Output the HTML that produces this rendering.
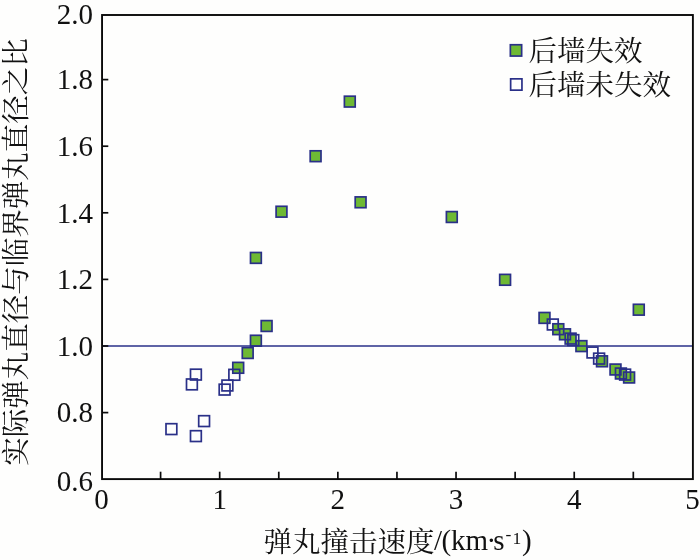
<!DOCTYPE html>
<html lang="zh">
<head>
<meta charset="utf-8">
<title>弹丸撞击速度</title>
<style>
html,body{margin:0;padding:0;background:#fefefd;}
body{width:700px;height:560px;overflow:hidden;}
svg{display:block;}
.num{font-family:"Liberation Serif","Noto Serif CJK SC",serif;font-size:29px;fill:#111;}
.cjk{font-family:"Liberation Serif","Noto Serif CJK SC",serif;font-size:28.5px;fill:#111;}
</style>
</head>
<body>
<svg width="700" height="560" viewBox="0 0 700 560">
<rect x="0" y="0" width="700" height="560" fill="#fefefd"/>
<g fill="#6eb934" stroke="none">
<rect x="232.80" y="362.40" width="10.8" height="10.8"/>
<rect x="242.30" y="347.60" width="10.8" height="10.8"/>
<rect x="250.50" y="335.30" width="10.8" height="10.8"/>
<rect x="261.20" y="320.60" width="10.8" height="10.8"/>
<rect x="250.50" y="252.50" width="10.8" height="10.8"/>
<rect x="276.10" y="206.30" width="10.8" height="10.8"/>
<rect x="310.20" y="150.80" width="10.8" height="10.8"/>
<rect x="344.40" y="96.20" width="10.8" height="10.8"/>
<rect x="355.20" y="196.90" width="10.8" height="10.8"/>
<rect x="446.40" y="211.60" width="10.8" height="10.8"/>
<rect x="499.70" y="274.40" width="10.8" height="10.8"/>
<rect x="539.10" y="312.50" width="10.8" height="10.8"/>
<rect x="552.90" y="323.80" width="10.8" height="10.8"/>
<rect x="559.60" y="328.90" width="10.8" height="10.8"/>
<rect x="565.20" y="333.20" width="10.8" height="10.8"/>
<rect x="576.00" y="340.70" width="10.8" height="10.8"/>
<rect x="596.60" y="355.90" width="10.8" height="10.8"/>
<rect x="610.10" y="364.10" width="10.8" height="10.8"/>
<rect x="615.50" y="368.10" width="10.8" height="10.8"/>
<rect x="623.70" y="372.10" width="10.8" height="10.8"/>
<rect x="633.40" y="304.30" width="10.8" height="10.8"/>
</g>
<line x1="102.3" y1="346.0" x2="693.0" y2="346.0" stroke="#2a3088" stroke-width="1.6"/>
<g fill="none" stroke="#2a3088" stroke-width="1.7">
<rect x="232.80" y="362.40" width="10.8" height="10.8"/>
<rect x="242.30" y="347.60" width="10.8" height="10.8"/>
<rect x="250.50" y="335.30" width="10.8" height="10.8"/>
<rect x="261.20" y="320.60" width="10.8" height="10.8"/>
<rect x="250.50" y="252.50" width="10.8" height="10.8"/>
<rect x="276.10" y="206.30" width="10.8" height="10.8"/>
<rect x="310.20" y="150.80" width="10.8" height="10.8"/>
<rect x="344.40" y="96.20" width="10.8" height="10.8"/>
<rect x="355.20" y="196.90" width="10.8" height="10.8"/>
<rect x="446.40" y="211.60" width="10.8" height="10.8"/>
<rect x="499.70" y="274.40" width="10.8" height="10.8"/>
<rect x="539.10" y="312.50" width="10.8" height="10.8"/>
<rect x="552.90" y="323.80" width="10.8" height="10.8"/>
<rect x="559.60" y="328.90" width="10.8" height="10.8"/>
<rect x="565.20" y="333.20" width="10.8" height="10.8"/>
<rect x="576.00" y="340.70" width="10.8" height="10.8"/>
<rect x="596.60" y="355.90" width="10.8" height="10.8"/>
<rect x="610.10" y="364.10" width="10.8" height="10.8"/>
<rect x="615.50" y="368.10" width="10.8" height="10.8"/>
<rect x="623.70" y="372.10" width="10.8" height="10.8"/>
<rect x="633.40" y="304.30" width="10.8" height="10.8"/>
<rect x="166.00" y="423.70" width="10.8" height="10.8"/>
<rect x="190.50" y="430.70" width="10.8" height="10.8"/>
<rect x="198.70" y="415.70" width="10.8" height="10.8"/>
<rect x="186.50" y="379.00" width="10.8" height="10.8"/>
<rect x="190.50" y="369.20" width="10.8" height="10.8"/>
<rect x="219.20" y="384.20" width="10.8" height="10.8"/>
<rect x="222.00" y="380.10" width="10.8" height="10.8"/>
<rect x="228.90" y="369.40" width="10.8" height="10.8"/>
<rect x="547.40" y="319.10" width="10.8" height="10.8"/>
<rect x="567.90" y="334.70" width="10.8" height="10.8"/>
<rect x="587.10" y="347.10" width="10.8" height="10.8"/>
<rect x="593.70" y="353.20" width="10.8" height="10.8"/>
<rect x="619.70" y="369.20" width="10.8" height="10.8"/>
</g>
<rect x="102.05" y="15" width="590.85" height="464.1" fill="none" stroke="#0a0a0a" stroke-width="1.9"/>
<g stroke="#0a0a0a" stroke-width="1.7">
<line x1="160.59" y1="479.0" x2="160.59" y2="471.7"/>
<line x1="219.68" y1="479.0" x2="219.68" y2="471.7"/>
<line x1="278.77" y1="479.0" x2="278.77" y2="471.7"/>
<line x1="337.86" y1="479.0" x2="337.86" y2="471.7"/>
<line x1="396.95" y1="479.0" x2="396.95" y2="471.7"/>
<line x1="456.04" y1="479.0" x2="456.04" y2="471.7"/>
<line x1="515.13" y1="479.0" x2="515.13" y2="471.7"/>
<line x1="574.22" y1="479.0" x2="574.22" y2="471.7"/>
<line x1="633.31" y1="479.0" x2="633.31" y2="471.7"/>
<line x1="102" y1="412.60" x2="108.3" y2="412.60"/>
<line x1="102" y1="346.00" x2="108.3" y2="346.00"/>
<line x1="102" y1="279.40" x2="108.3" y2="279.40"/>
<line x1="102" y1="212.80" x2="108.3" y2="212.80"/>
<line x1="102" y1="146.20" x2="108.3" y2="146.20"/>
<line x1="102" y1="79.60" x2="108.3" y2="79.60"/>
</g>
<g class="num" text-anchor="end">
<text transform="translate(92.9,490.60) scale(1,1.03)">0.6</text>
<text transform="translate(92.9,421.80) scale(1,1.03)">0.8</text>
<text transform="translate(92.9,355.60) scale(1,1.03)">1.0</text>
<text transform="translate(92.9,288.70) scale(1,1.03)">1.2</text>
<text transform="translate(92.9,222.60) scale(1,1.03)">1.4</text>
<text transform="translate(92.9,155.60) scale(1,1.03)">1.6</text>
<text transform="translate(92.9,89.40) scale(1,1.03)">1.8</text>
<text transform="translate(92.9,23.90) scale(1,1.03)">2.0</text>
</g>
<g class="num" text-anchor="middle">
<text transform="translate(101.50,508.8) scale(1,1.03)">0</text>
<text transform="translate(219.68,508.8) scale(1,1.03)">1</text>
<text transform="translate(337.86,508.8) scale(1,1.03)">2</text>
<text transform="translate(456.04,508.8) scale(1,1.03)">3</text>
<text transform="translate(574.22,508.8) scale(1,1.03)">4</text>
<text transform="translate(692.40,508.8) scale(1,1.03)">5</text>
</g>
<text class="cjk" x="263.5" y="552">弹丸撞击速度<tspan font-size="29px" x="434" y="550.3">/</tspan><tspan font-size="29px" x="441.4" y="550.3">(km</tspan><tspan font-size="29px" x="486.6" y="550.3">·</tspan><tspan font-size="29px" x="493.3" y="550.3">s</tspan><tspan font-size="17.5px" x="505.6" y="540.2">-</tspan><tspan font-size="17.5px" x="512.6" y="543.6">1</tspan><tspan font-size="29px" x="522" y="550.3">)</tspan></text>
<text class="cjk" text-anchor="middle" transform="translate(25.5,252) rotate(-90)">实际弹丸直径与临界弹丸直径之比</text>
<rect x="510.35" y="44.75" width="11.3" height="11.3" fill="#6eb934" stroke="#2a3088" stroke-width="1.7"/>
<rect x="510.65" y="78.85" width="11.3" height="11.3" fill="none" stroke="#2a3088" stroke-width="1.7"/>
<text class="cjk" x="528.5" y="61.2">后墙失效</text>
<text class="cjk" x="528.5" y="95.2">后墙未失效</text>
</svg>
</body>
</html>
